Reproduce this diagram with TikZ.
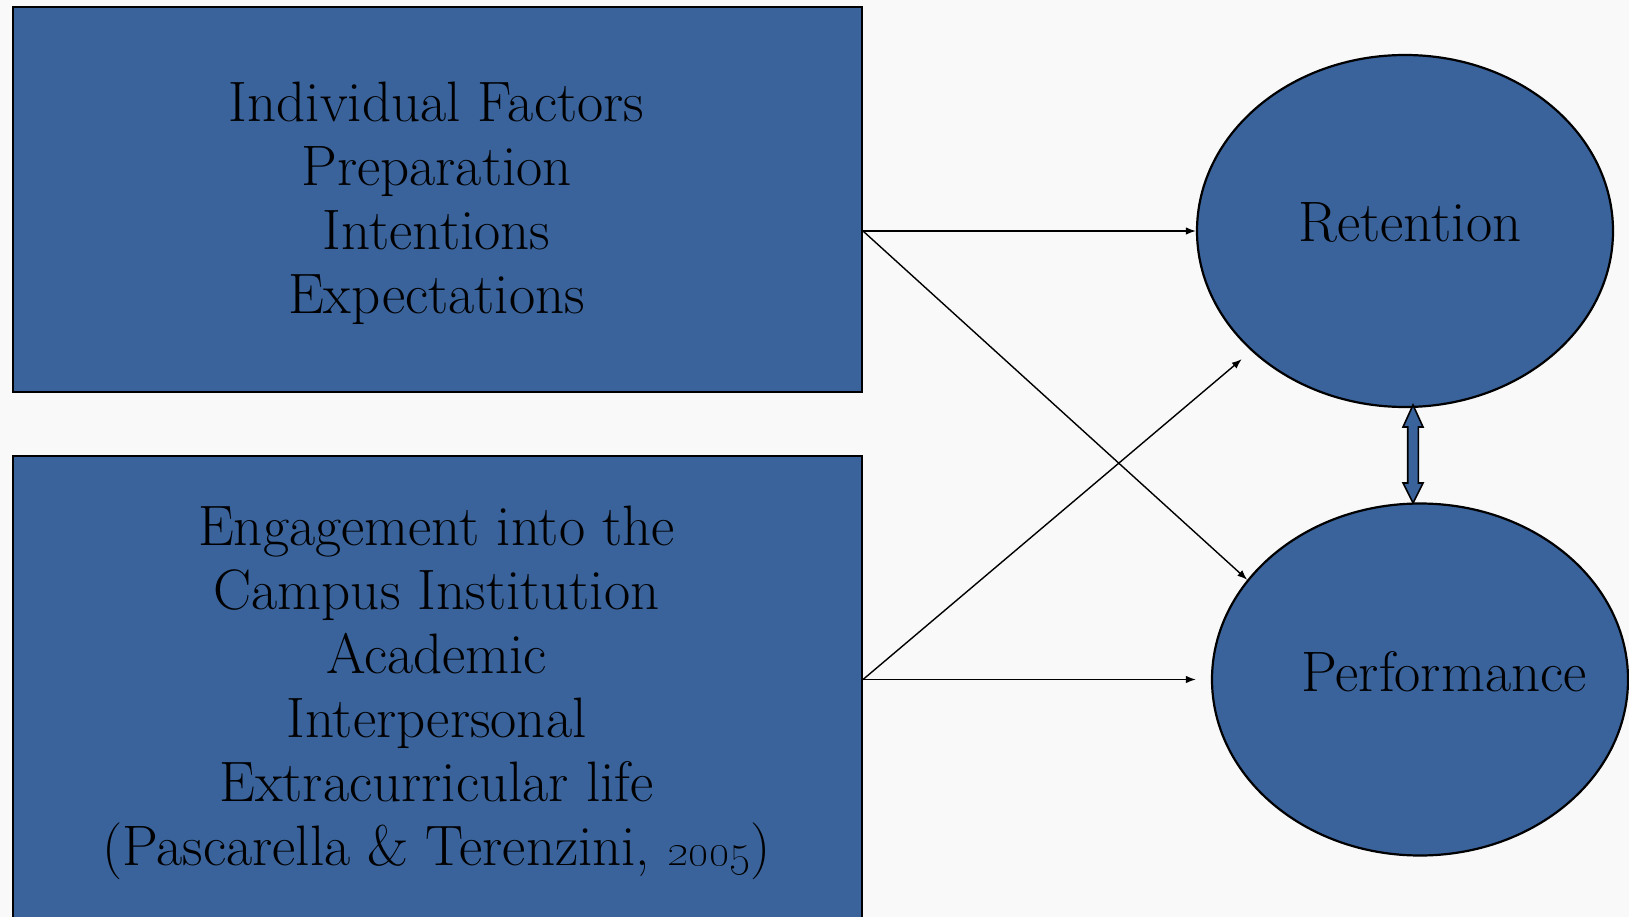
\documentclass[tikz,border=0pt]{standalone}
\usetikzlibrary{arrows.meta,shapes.geometric}
\definecolor{boxblue}{RGB}{58,99,155}
\definecolor{bgcol}{RGB}{249,249,249}
\begin{document}
\begin{tikzpicture}[x=1pt,y=-1pt,
  box/.style={draw=black, line width=2pt, fill=boxblue, inner sep=0pt, anchor=north west},
  oval/.style={draw=black, line width=2.2pt, fill=boxblue, ellipse, inner sep=0pt, minimum width=416pt, minimum height=352pt},
  txt/.style={align=center, inner sep=0pt, font=\fontsize{57}{64}\selectfont},
  conn/.style={line width=1.4pt, -{Latex[length=10pt,width=7.5pt]}},
  blockarrow/.style={draw=black, line width=1.6pt, fill=boxblue, line join=miter}
]
\useasboundingbox (0,0) rectangle (1629,917);
\clip (0,0) rectangle (1629,917);
\fill[bgcol] (0,0) rectangle (1629,917);

\node[box, minimum width=849pt, minimum height=385pt] (box1) at (12,6) {};
\node[box, minimum width=849pt, minimum height=480pt] (box2) at (12,455) {};

\node[txt] (t1) at (436.5,204.5) {\rule{0pt}{40pt}Individual Factors\\Preparation\\Intentions\\Expectations\rule[-15pt]{0pt}{15pt}};
\node[txt] (t2) at (436.5,693) {\rule{0pt}{40pt}Engagement into the\\Campus Institution\\Academic\\Interpersonal\\Extracurricular life\\(Pascarella \& Terenzini, \scalebox{1.3}{\oldstylenums{2005}})\rule[-15pt]{0pt}{15pt}};

\node[oval] (ret) at (1405,231) {};
\node[oval] (perf) at (1420,679.5) {};
\node[txt, anchor=base] (rett) at (1410,242) {Retention};
\node[txt, anchor=base] (perft) at (1444,691) {Performance};

\coordinate (s1) at (box1.east |- ret.west);
\coordinate (s2) at (box2.east |- perf.west);

\draw[conn] (s1) -- (ret.west);
\draw[conn] (s1) -- (perf.150.9);
\draw[conn, shorten >=15pt] (s2) -- (perf.west);
\draw[conn, shorten >=12.5pt] (s2) -- (ret.218.9);

% double block arrow between Retention and Performance
\draw[blockarrow] (1413,405) -- (1423,427) -- (1418.3,427) -- (1418.3,483) -- (1423,483)
  -- (1413,503) -- (1403,483) -- (1407.7,483) -- (1407.7,427) -- (1403,427) -- cycle;
\end{tikzpicture}
\end{document}
